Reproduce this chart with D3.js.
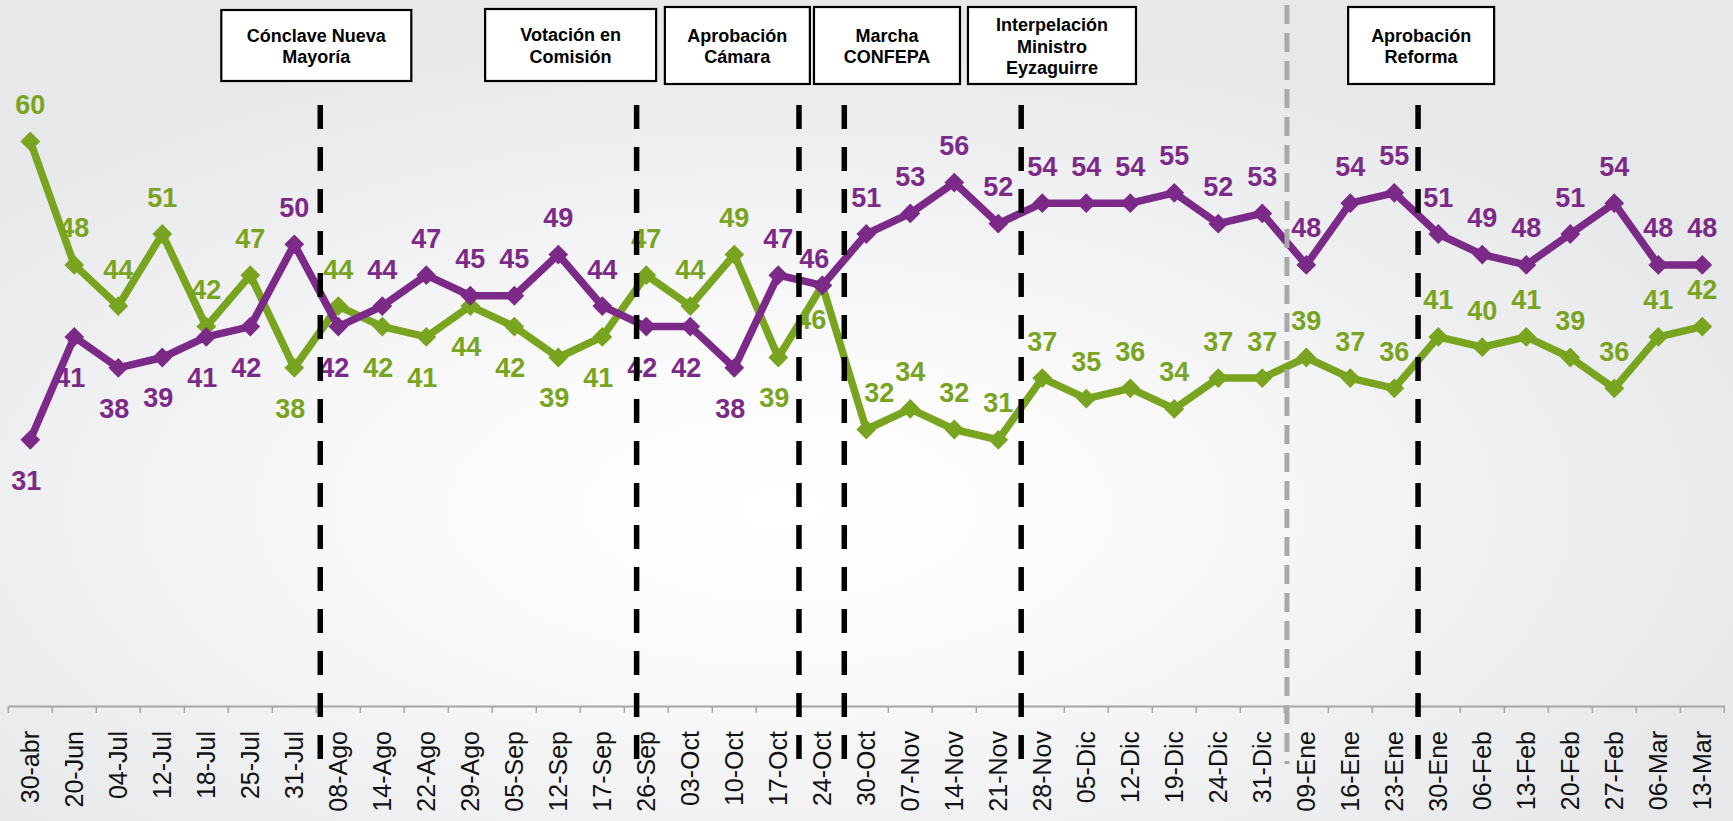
<!DOCTYPE html>
<html><head><meta charset="utf-8">
<script src="https://cdn.jsdelivr.net/npm/d3@7"></script>
<style>html,body{margin:0;padding:0;background:#fff;overflow:hidden;} svg{display:block;}</style>
</head><body><svg id="chart" width="1733" height="821"></svg>
<script>
// ---------- DATA ----------
const categories = ["30-abr","20-Jun","04-Jul","12-Jul","18-Jul","25-Jul","31-Jul","08-Ago","14-Ago","22-Ago","29-Ago","05-Sep","12-Sep","17-Sep","26-Sep","03-Oct","10-Oct","17-Oct","24-Oct","30-Oct","07-Nov","14-Nov","21-Nov","28-Nov","05-Dic","12-Dic","19-Dic","24-Dic","31-Dic","09-Ene","16-Ene","23-Ene","30-Ene","06-Feb","13-Feb","20-Feb","27-Feb","06-Mar","13-Mar"];
const greenValues  = [60,48,44,51,42,47,38,44,42,41,44,42,39,41,47,44,49,39,46,32,34,32,31,37,35,36,34,37,37,39,37,36,41,40,41,39,36,41,42];
const purpleValues = [31,41,38,39,41,42,50,42,44,47,45,45,49,44,42,42,38,47,46,51,53,56,52,54,54,54,55,52,53,48,54,55,51,49,48,51,54,48,48];
const eventLabels = [["Cónclave Nueva","Mayoría"],["Votación en","Comisión"],["Aprobación","Cámara"],["Marcha","CONFEPA"],["Interpelación","Ministro","Eyzaguirre"],["Aprobación","Reforma"]];
// event dates expressed as fractional category positions
const eventLinePos = [6.59, 13.78, 17.47, 18.5, 22.52, 31.54];
const yearBreakPos = 28.56;
const bothAboveFrom = 19; // from "30-Oct" on, all labels sit above the points

// ---------- LAYOUT ----------
const W = 1733, H = 821;
const GREEN = "#78a41f", PURPLE = "#7b2a88";
const boxCenterPos = [6.5, 12.28, 16.07, 19.47, 23.22, 31.61];
const boxWidths = [190, 171, 145, 146, 168, 146];
const boxTops = [10, 9, 7, 7, 7, 7];
const boxBottoms = [81, 81, 84, 84, 84, 84];
const axisY = 706;
// a few hand-moved labels in the original (series, category index, dx, dy)
const labelNudges = [["purple",18,-8,10],["green",18,-7,-6],["green",19,13,0]];

const svg = d3.select("#chart");
const defs = svg.append("defs");
const rg = defs.append("radialGradient").attr("id","bg")
  .attr("cx","0.45").attr("cy","0.62").attr("r","0.6").attr("fx","0.45").attr("fy","0.62");
rg.append("stop").attr("offset","0").attr("stop-color","#ffffff");
rg.append("stop").attr("offset","0.3").attr("stop-color","#fbfbfc");
rg.append("stop").attr("offset","1").attr("stop-color","#e7e8ea");
svg.append("rect").attr("width",W).attr("height",H).attr("fill","url(#bg)");

const x = d3.scaleBand().domain(categories).range([8.3, 1724.3]).padding(0);
const y = d3.scaleLinear().domain([0, 60]).range([758.8, 141.4]);
const cx = c => x(c) + x.bandwidth()/2;
const posX = p => x.range()[0] + x.step()*(p + 0.5);

// axis
const axisG = svg.append("g").attr("transform", `translate(0,${axisY})`)
  .call(d3.axisBottom(x).tickSize(0).tickPadding(0));
axisG.select(".domain").attr("stroke","#a6a6a6").attr("stroke-width",2);
axisG.selectAll(".tick text")
  .attr("transform","rotate(-90)")
  .attr("x",-25).attr("y",0).attr("dy","0.35em")
  .style("text-anchor","end")
  .attr("font-family","'Liberation Sans', Arial, sans-serif")
  .attr("font-size",25).attr("fill","#111");
const bounds = categories.map(c => x(c)).concat([x.range()[1]]);
axisG.selectAll("line.bt").data(bounds).enter().append("line").attr("class","bt")
  .attr("x1",d=>d).attr("x2",d=>d).attr("y1",0).attr("y2",7)
  .attr("stroke","#a6a6a6").attr("stroke-width",1.5);

// labels
const series = [
  {name:"green", vals:greenValues, other:purpleValues, color:GREEN, prio:0},
  {name:"purple", vals:purpleValues, other:greenValues, color:PURPLE, prio:1}
];
const nudge = (s,i) => {
  const n = labelNudges.find(a => a[0]===s.name && a[1]===i);
  return n ? [n[2], n[3]] : [0,0];
};
const labelsG = svg.append("g")
  .attr("font-family","'Liberation Sans', Arial, sans-serif")
  .attr("font-weight","bold").attr("font-size",27).attr("text-anchor","middle");
series.forEach(s => {
  const isAbove = (d,i) => i >= bothAboveFrom || d > s.other[i] || (d === s.other[i] && s.prio === 1);
  labelsG.selectAll(null).data(s.vals).enter().append("text")
    .attr("fill", s.color)
    .attr("x", (d,i) => cx(categories[i]) + (isAbove(d,i) ? 0 : -4) + nudge(s,i)[0])
    .attr("y", (d,i) => (isAbove(d,i) ? y(d) - 27.5 : y(d) + 50) + nudge(s,i)[1])
    .text(d => d);
});

// lines + diamonds
const lineGen = d3.line().x((d,i)=>cx(categories[i])).y(d=>y(d));
series.forEach(s => {
  const g = svg.append("g");
  g.append("path").datum(s.vals).attr("d", lineGen)
    .attr("fill","none").attr("stroke",s.color).attr("stroke-width",7.5).attr("stroke-linejoin","round");
  g.selectAll("path.m").data(s.vals).enter().append("path").attr("class","m")
    .attr("d", d3.symbol().type(d3.symbolDiamond2).size(250))
    .attr("transform",(d,i)=>`translate(${cx(categories[i])},${y(d)})`)
    .attr("fill", s.color);
});

// year break gray dashed line
svg.append("line")
  .attr("x1",posX(yearBreakPos)).attr("x2",posX(yearBreakPos))
  .attr("y1",5).attr("y2",764)
  .attr("stroke","#a9a9a9").attr("stroke-width",5).attr("stroke-dasharray","19,9");

// event dashed lines
svg.selectAll("line.ev").data(eventLinePos).enter().append("line").attr("class","ev")
  .attr("x1",d=>posX(d)).attr("x2",d=>posX(d))
  .attr("y1",105).attr("y2",760)
  .attr("stroke","#000").attr("stroke-width",5.5).attr("stroke-dasharray","24,18");

// event boxes
const boxG = svg.append("g");
eventLabels.forEach((lines,k) => {
  const c = posX(boxCenterPos[k]), w = boxWidths[k];
  const t = boxTops[k], b = boxBottoms[k];
  boxG.append("rect").attr("x",c - w/2).attr("y",t).attr("width",w).attr("height",b-t)
    .attr("fill","#fff").attr("stroke","#000").attr("stroke-width",2.2);
  const cy = (t+b)/2, n = lines.length;
  lines.forEach((ln,j) => {
    boxG.append("text").attr("x",c).attr("y", cy + (j-(n-1)/2)*21.7 + 7)
      .attr("text-anchor","middle")
      .attr("font-family","'Liberation Sans', Arial, sans-serif")
      .attr("font-weight","bold").attr("font-size",18).attr("fill","#000")
      .text(ln);
  });
});
</script>
</body></html>
